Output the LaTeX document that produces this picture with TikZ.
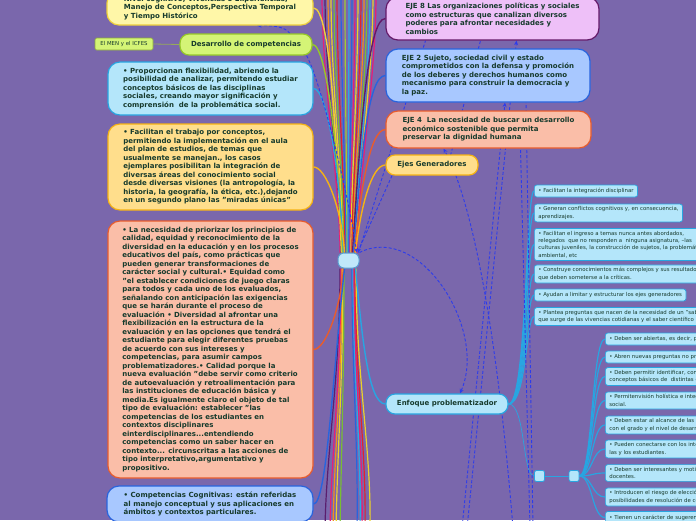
\documentclass[tikz,border=0pt]{standalone}
\usepackage{fontspec}
\setmainfont{DejaVu Sans}
\usetikzlibrary{arrows.meta}
\pgfdeclarelayer{back}
\pgfdeclarelayer{lines}
\pgfsetlayers{back,lines,main}
\definecolor{bgc}{RGB}{122,103,172}
\definecolor{txt}{RGB}{22,58,44}
\definecolor{yelF}{RGB}{255,247,168}\definecolor{yelD}{RGB}{238,208,60}
\definecolor{limF}{RGB}{212,244,118}\definecolor{limD}{RGB}{150,200,40}
\definecolor{cyaF}{RGB}{180,230,250}\definecolor{cyaD}{RGB}{40,165,225}
\definecolor{gldF}{RGB}{255,222,140}\definecolor{gldD}{RGB}{245,178,20}
\definecolor{salF}{RGB}{250,190,168}\definecolor{salD}{RGB}{232,92,45}
\definecolor{bluF}{RGB}{168,200,255}\definecolor{bluD}{RGB}{40,100,222}
\definecolor{pnkF}{RGB}{238,192,248}\definecolor{pnkD}{RGB}{100,25,105}
\definecolor{relc}{RGB}{45,60,235}
\definecolor{ctrD}{RGB}{90,160,210}\definecolor{ctrF}{RGB}{192,232,250}
\definecolor{menD}{RGB}{140,170,60}\definecolor{menL}{RGB}{150,170,90}
\definecolor{cM}{RGB}{230,30,120}\definecolor{cR}{RGB}{225,35,45}
\definecolor{cO}{RGB}{245,140,30}\definecolor{cY}{RGB}{235,210,40}
\definecolor{cG}{RGB}{120,190,50}\definecolor{cL}{RGB}{160,205,50}
\definecolor{cB}{RGB}{40,100,222}\definecolor{cC}{RGB}{40,170,230}
\definecolor{cP}{RGB}{90,30,110}
\newcommand{\mmbig}{\fontsize{7}{8.5}\selectfont\bfseries}
\newcommand{\mmsmall}{\fontsize{5.4}{7.4}\selectfont}
\tikzset{
 mmbox/.style={rounded corners=12pt, line width=1.2pt, align=left, font=\mmbig, text=txt, inner sep=0pt},
 mmpill/.style={rounded corners=9pt, line width=1.2pt, align=center, font=\mmbig, text=txt, inner sep=0pt},
 itembox/.style={rounded corners=2.5pt, line width=0.7pt, draw=cyaD, fill=cyaF, align=left, font=\mmsmall, text=txt, inner xsep=4pt, inner ysep=2.6pt, anchor=west, minimum height=12pt},
 rel/.style={draw=relc, line width=0.9pt, dash pattern=on 3pt off 2pt},
 relarr/.style={rel, -{Stealth[length=4.5pt,width=4pt]}},
 bund/.style={line width=1.2pt},
 conn/.style={line width=1.4pt},
 sublink/.style={draw=cyaD, line width=1.2pt},
}
\begin{document}
\begin{tikzpicture}[x=1pt,y=-1pt]
\useasboundingbox (0,0) rectangle (696,520);
\begin{pgfonlayer}{back}
\fill[bgc] (0,0) rectangle (696,520);
\end{pgfonlayer}

% ---------- left column
\node[mmbox, fill=yelF, draw=yelD, minimum width=206pt, minimum height=34pt] (ytop) at (210,8)
{Nivel cognitivo, Vivencias o Experiencias,\\Manejo de Conceptos,Perspectiva Temporal\\y Tiempo Histórico};
\node[rounded corners=1.5pt, line width=0.6pt, draw=menD, fill=limF, font=\mmsmall, text=txt, inner sep=0pt, minimum width=58pt, minimum height=12pt] (men) at (124,44) {El MEN y el ICFES};
\node[mmpill, fill=limF, draw=limD, minimum width=132pt, minimum height=21pt] (des) at (246,44.5) {Desarrollo de competencias};
\node[mmbox, fill=cyaF, draw=cyaD, minimum width=205pt, minimum height=53pt] (lblue) at (210.5,88.5)
{• Proporcionan flexibilidad, abriendo la\\posibilidad de analizar, permitendo estudiar\\conceptos básicos de las disciplinas\\sociales, creando mayor significación y\\comprensión\ \ de la problemática social.};
\node[mmbox, fill=gldF, draw=gldD, minimum width=205pt, minimum height=86pt] (orng) at (210.5,167)
{• Facilitan el trabajo por conceptos,\\permitiendo la implementación en el aula\\del plan de estudios, de temas que\\usualmente se manejan., los casos\\ejemplares posibilitan la integración de\\diversas áreas del conocimiento social\\desde diversas visiones (la antropología, la\\historia, la geografía, la ética, etc.),dejando\\en un segundo plano las "miradas únicas"};
\node[mmbox, fill=salF, draw=salD, minimum width=205pt, minimum height=257pt] (salm) at (210.5,349.5)
{• La necesidad de priorizar los principios de\\calidad, equidad y reconocimiento de la\\diversidad en la educación y en los procesos\\educativos del país, como prácticas que\\pueden generar transformaciones de\\carácter social y cultural.• Equidad como\\"el establecer condiciones de juego claras\\para todos y cada uno de los evaluados,\\señalando con anticipación las exigencias\\que se harán durante el proceso de\\evaluación • Diversidad al afrontar una\\flexibilización en la estructura de la\\evaluación y en las opciones que tendrá el\\estudiante para elegir diferentes pruebas\\de acuerdo con sus intereses y\\competencias, para asumir campos\\problematizadores.• Calidad porque la\\nueva evaluación "debe servir como criterio\\de autoevaluación y retroalimentación para\\las instituciones de educación básica y\\media.Es igualmente claro el objeto de tal\\tipo de evaluación: establecer "las\\competencias de los estudiantes en\\contextos disciplinares\\einterdisciplinares...entendiendo\\competencias como un saber hacer en\\contexto... circunscritas a las acciones de\\tipo interpretativo,argumentativo y\\propositivo.};
\node[mmbox, fill=bluF, draw=bluD, minimum width=206pt, minimum height=36pt] (blu) at (210,504)
{• Competencias Cognitivas: están referidas\\al manejo conceptual y sus aplicaciones en\\ámbitos y contextos particulares.};

% ---------- centre
\node[draw=ctrD, fill=ctrF, rounded corners=6pt, line width=1pt, minimum width=21pt, minimum height=15pt, inner sep=0pt] (ctr) at (348.5,260.5) {};

% ---------- right column
\node[mmbox, fill=pnkF, draw=pnkD, minimum width=213pt, minimum height=43pt] (e8) at (492.5,18.5)
{EJE 8 Las organizaciones políticas y sociales\\como estructuras que canalizan diversos\\poderes para afrontar necesidades y\\cambios};
\node[mmbox, fill=bluF, draw=bluD, minimum width=204pt, minimum height=53pt] (e2) at (488,75.5)
{EJE 2 Sujeto, sociedad civil y estado\\comprometidos con la defensa y promoción\\de los deberes y derechos humanos como\\mecanismo para construir la democracia y\\la paz.};
\node[mmbox, fill=salF, draw=salD, minimum width=205pt, minimum height=37pt] (e4) at (488.5,129.5)
{EJE 4\ \ La necesidad de buscar un desarrollo\\económico sostenible que permita\\preservar la dignidad humana};
\node[mmpill, fill=gldF, draw=gldD, minimum width=92pt, minimum height=20pt] (ejes) at (432,165) {Ejes Generadores};
\node[mmpill, fill=cyaF, draw=cyaD, minimum width=122pt, minimum height=20pt] (enf) at (447,404) {Enfoque problematizador};
\node[draw=cyaD, fill=cyaF, rounded corners=2pt, line width=0.8pt, minimum width=10pt, minimum height=11pt, inner sep=0pt] (sq1) at (539.5,476) {};
\node[draw=cyaD, fill=cyaF, rounded corners=2pt, line width=0.8pt, minimum width=10pt, minimum height=11pt, inner sep=0pt] (sq2) at (574,476) {};

% group 1
\node[itembox] (ga) at (534,191) {• Facilitan la integración disciplinar};
\node[itembox] (gb) at (534,213) {• Generan conflictos cognitivos y, en consecuencia,\\aprendizajes.};
\node[itembox] (gc) at (534,244.5) {• Facilitan el ingreso a temas nunca antes abordados,\\relegados\ \ que no responden a\ \ ninguna asignatura, –las\\culturas juveniles, la construcción de sujetos, la problemática\\ambiental, etc};
\node[itembox] (gd) at (534,274) {• Construye conocimientos más complejos y sus resultados\\que deben someterse a la críticas.};
\node[itembox] (ge) at (534,295) {• Ayudan a limitar y estructurar los ejes generadores};
\node[itembox] (gf) at (534,316.5) {• Plantea preguntas que nacen de la necesidad de un "saber"\\que surge de las vivencias cotidianas y el saber científico};

% group 2
\node[itembox] (h1) at (605,339) {• Deben ser abiertas, es decir, permitir};
\node[itembox] (h2) at (605,357) {• Abren nuevas preguntas no previstas};
\node[itembox] (h3) at (605,376.5) {• Deben permitir identificar, construir\\conceptos básicos de\ \ distintas disciplinas};
\node[itembox] (h4) at (605,400.5) {• Permitenvisión holística e integral\\social.};
\node[itembox] (h5) at (605,425) {• Deben estar al alcance de las y los\\con el grado y el nivel de desarrollo};
\node[itembox] (h6) at (605,449) {• Pueden conectarse con los intereses de\\las y los estudiantes.};
\node[itembox] (h7) at (605,473) {• Deben ser interesantes y motivadoras\\docentes.};
\node[itembox] (h8) at (605,497) {• Introducen el riesgo de elección\\posibilidades de resolución de conflictos};
\node[itembox] (h9) at (605,517.5) {• Tienen un carácter de sugerencia};

\coordinate (f1) at (462,528);
\coordinate (f2) at (467,528);
\coordinate (f3) at (513,528);
\coordinate (f4) at (530,528);
\coordinate (f5) at (533,528);

\begin{pgfonlayer}{lines}
% bundle of branches leaving the picture
\foreach \xt/\xo/\cc [count=\i] in {322/-8.5/cM,325/-7.5/cP,328/-6.5/cO,331/-5.5/cY,334/-4.5/cG,337/-3.5/cR,341/-2.5/cB,345/-1.5/cL,349/-0.5/cC,352/0.5/cB,355/1.5/cM,358/2.5/cY,361/3.5/cR,364/4.5/cO,367/5.5/cG,370/6.5/cC,373/7.5/cY,376/8.5/cM}{
 \coordinate (tp\i) at (\xt,-6);
 \draw[bund,\cc] ([xshift=\xo]ctr.north) .. controls +(0,-70) and +(0,90) .. (tp\i);
}
\foreach \xb/\xo/\cc [count=\i] in {325/-8.5/cP,330/-7.5/cM,333/-6.5/cO,336/-5.5/cY,340/-4.5/cG,357/3.5/cB,360/4.5/cC,362/5.5/cM,365/6.5/cR,370/7.5/cY}{
 \coordinate (bt\i) at (\xb,528);
 \draw[bund,\cc] ([xshift=\xo]ctr.south) .. controls +(0,110) and +(1.5,-80) .. (bt\i);
}
% branches to visible nodes
\draw[conn, yelD] (ytop.east) .. controls +(17,0) and +(-5,-110) .. ([xshift=-7]ctr.north);
\draw[conn, limD] (des.east) .. controls +(14,0) and +(-4,-100) .. ([xshift=-6]ctr.north);
\draw[conn, cyaD] (lblue.east) .. controls +(13,0) and +(-4,-85) .. ([xshift=-5]ctr.north);
\draw[conn, gldD] (orng.east) .. controls +(12,0) and +(-3,-45) .. ([xshift=-4]ctr.north);
\draw[conn, salD] (salm.east) .. controls +(12,0) and +(-3,40) .. ([xshift=-5]ctr.south);
\draw[conn, bluD] (blu.east) .. controls +(13,0) and +(-12,110) .. ([xshift=-4]ctr.south);
\draw[conn, pnkD] (e8.west) .. controls +(-18,0) and +(8,-120) .. ([xshift=4]ctr.north);
\draw[conn, bluD] (e2.west) .. controls +(-18,0) and +(8,-95) .. ([xshift=5]ctr.north);
\draw[conn, salD] (e4.west) .. controls +(-16,0) and +(6,-60) .. ([xshift=6]ctr.north);
\draw[conn, gldD] (ejes.west) .. controls +(-14,0) and +(5,-45) .. ([xshift=7]ctr.north);
\draw[conn, cyaD] (enf.west) .. controls +(-18,0) and +(6,60) .. ([xshift=7]ctr.south);
\draw[menL, line width=0.8pt] (men.east) -- (des.west);
% enfoque sub-branches
\foreach \n in {ga,gb,gc,gd,ge,gf}
 \draw[sublink] (enf.east) .. controls +(18,0) and +(-8,0) .. (\n.west);
\draw[draw=cyaD, line width=0.7pt] (enf.east) .. controls +(17,0) and +(-12,0) .. (sq1.west);
\draw[draw=cyaD, line width=0.7pt] (sq1.east) -- (sq2.west);
\foreach \n in {h1,h2,h3,h4,h5,h6,h7,h8,h9}
 \draw[sublink] (sq2.east) .. controls +(13,0) and +(-13,0) .. (\n.west);
% relationships
\draw[relarr] ([xshift=-6]des.south east) .. controls +(14,25) and +(-6,-50) .. ([xshift=8]ctr.north);
\draw[relarr] ([xshift=44]des.north) .. controls +(-6,-8) and +(12,0) .. ([xshift=47]ytop.south);
\draw[relarr] ([xshift=-40]ejes.south) -- ([xshift=9]ctr.north);
\draw[rel] ([xshift=10]ctr.north) -- ([xshift=-67]e8.south);
\draw[relarr] (ctr.north east) .. controls (420,222) and (488,330) .. ([xshift=13]enf.north);
\draw[relarr] (f1) -- ([xshift=17]e2.south);
\draw[relarr] (f2) -- ([xshift=24]e8.south);
\draw[relarr] (f3) .. controls (497,330) and (472,200) .. ([xshift=-45]e4.south);
\draw[rel] (f4) -- ([xshift=32]e4.south);
\draw[rel] (f5) -- ([xshift=38]e2.south);
\draw[rel] ([xshift=16]ejes.center) -- ([xshift=-12]e8.south);
\end{pgfonlayer}
\end{tikzpicture}
\end{document}
